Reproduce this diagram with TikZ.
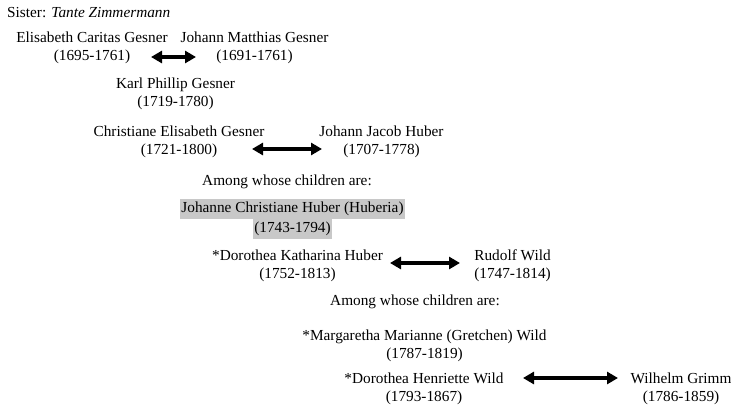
\documentclass[tikz,border=0pt]{standalone}
\usepackage{fontspec}
\setmainfont{Liberation Serif}
\usetikzlibrary{arrows.meta}

\definecolor{hlgray}{RGB}{200,200,200}
\newcommand{\hlname}[1]{{\setlength{\fboxsep}{1pt}\colorbox{hlgray}{\strut #1}}}

\tikzset{
  person/.style={align=center, inner sep=0pt, font=\fontsize{15.3}{18}\selectfont},
  note/.style={inner sep=0pt, font=\fontsize{15.3}{18}\selectfont},
  marriage/.style={{Triangle[length=11pt,width=12pt]}-{Triangle[length=11pt,width=12pt]}, line width=3.8pt}
}

\begin{document}
\begin{tikzpicture}[x=1pt,y=-1pt]

% Canvas
\useasboundingbox (0,0) rectangle (731,407);

% Header
\node[note, anchor=west] (sister) at (7,13) {Sister: \textit{Tante Zimmermann}};

% Generation 1
\node[person] (elisabeth) at (92,48) {Elisabeth Caritas Gesner\\(1695-1761)};
\node[person] (matthias) at (254.5,48) {Johann Matthias Gesner\\(1691-1761)};
\coordinate (m1a) at (151,57);
\coordinate (m1b) at (196,57);
\draw[marriage] (m1a) -- (m1b);

% Generation 2
\node[person] (karl) at (175.5,94) {Karl Phillip Gesner\\(1719-1780)};
\node[person] (christiane) at (179,142) {Christiane Elisabeth Gesner\\(1721-1800)};
\node[person] (jacob) at (381.5,142) {Johann Jacob Huber\\(1707-1778)};
\coordinate (m2a) at (252,149);
\coordinate (m2b) at (322,149);
\draw[marriage] (m2a) -- (m2b);

\node[note] (among1) at (287,182) {Among whose children are:};

% Generation 3
\node[person] (huberia) at (292.5,219) {\hlname{Johanne Christiane Huber (Huberia)}\\[-1.3pt]\hlname{(1743-1794)}};
\node[person] (katharina) at (297.5,266) {*Dorothea Katharina Huber\\(1752-1813)};
\node[person] (rudolf) at (512.5,266) {Rudolf Wild\\(1747-1814)};
\coordinate (m3a) at (390,263);
\coordinate (m3b) at (460,263);
\draw[marriage] (m3a) -- (m3b);

\node[note] (among2) at (415,302) {Among whose children are:};

% Generation 4
\node[person] (gretchen) at (424.5,346) {*Margaretha Marianne (Gretchen) Wild\\(1787-1819)};
\node[person] (henriette) at (424,389) {*Dorothea Henriette Wild\\(1793-1867)};
\node[person] (wilhelm) at (681,389) {Wilhelm Grimm\\(1786-1859)};
\coordinate (m4a) at (523,378);
\coordinate (m4b) at (618,378);
\draw[marriage] (m4a) -- (m4b);

\end{tikzpicture}
\end{document}
